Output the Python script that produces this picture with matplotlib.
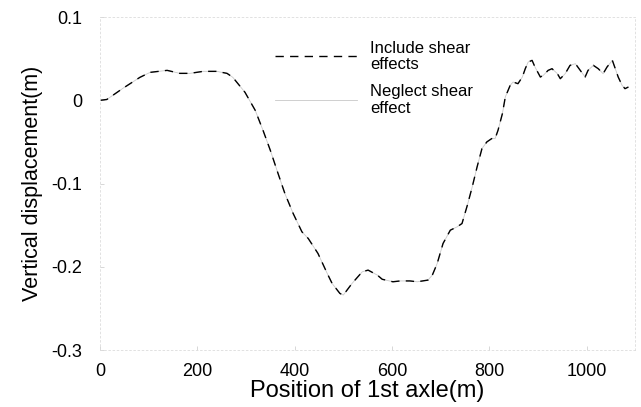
import matplotlib
matplotlib.use("Agg")
import matplotlib.pyplot as plt

plt.rcParams['font.family'] = ['Liberation Sans', 'DejaVu Sans']
plt.rcParams['axes.unicode_minus'] = False

# position of the first axle (m)
position = [0, 14, 47, 82, 103, 138, 164, 185, 212, 240, 261, 273, 298, 319,
            335, 350, 366, 380, 397, 415, 428, 448, 467, 477, 493, 500, 518,
            539, 551, 570, 580, 602, 617, 637, 652, 674, 683, 693, 705, 720,
            734, 744, 755, 765, 775, 785, 795, 805, 812, 818, 827, 833, 843,
            849, 859, 868, 874, 880, 888, 894, 905, 911, 921, 929, 940, 946,
            956, 966, 977, 987, 997, 1003, 1014, 1024, 1034, 1042, 1053, 1059,
            1065, 1073, 1079, 1086]

# vertical displacement with shear deformation included (m)
disp_shear = [0.0, 0.001, 0.0144, 0.0276, 0.0336, 0.036, 0.0324, 0.0324,
              0.0348, 0.0348, 0.0324, 0.0276, 0.0096, -0.012, -0.036, -0.060,
              -0.088, -0.112, -0.136, -0.158, -0.166, -0.184, -0.208, -0.220,
              -0.232, -0.234, -0.220, -0.206, -0.204, -0.210, -0.215, -0.218,
              -0.217, -0.217, -0.218, -0.216, -0.210, -0.196, -0.172, -0.156,
              -0.152, -0.148, -0.126, -0.104, -0.080, -0.058, -0.050, -0.046,
              -0.046, -0.036, -0.016, 0.004, 0.018, 0.022, 0.020, 0.028, 0.038,
              0.046, 0.048, 0.040, 0.028, 0.030, 0.036, 0.038, 0.032, 0.026,
              0.032, 0.042, 0.044, 0.036, 0.028, 0.036, 0.042, 0.038, 0.032,
              0.040, 0.048, 0.038, 0.028, 0.018, 0.014, 0.016]

# vertical displacement without shear deformation (m)
disp_noshear = list(disp_shear)

fig = plt.figure(figsize=(6.41, 4.07), dpi=100)
ax = fig.add_axes([0.156, 0.140, 0.835, 0.818])

ax.plot(position, disp_noshear, color='#c8c8c8', lw=0.6, label='Neglect shear\neffect')
ax.plot(position, disp_shear, color='black', lw=1.0, ls=(0, (6, 4.5)),
        label='Include shear\neffects')

ax.set_xlim(0, 1100)
ax.set_ylim(-0.3, 0.1)
ax.set_xticks([0, 200, 400, 600, 800, 1000])
ax.set_yticks([0.1, 0, -0.1, -0.2, -0.3])
ax.set_yticklabels(['0.1', '0', '-0.1', '-0.2', '-0.3'])

for s in ax.spines.values():
    s.set_color('#dcdcdc')
    s.set_linewidth(0.6)
    s.set_linestyle((0, (2, 3)))
ax.tick_params(direction='in', length=3, width=0.5, color='#c8c8c8',
               labelsize=13, pad=13)
ax.tick_params(axis='x', pad=9)

ax.set_xlabel('Position of 1st axle(m)', fontsize=17, labelpad=0)
ax.set_ylabel('Vertical displacement(m)', fontsize=15.5, labelpad=6)

handles, labels = ax.get_legend_handles_labels()
leg = ax.legend(handles[::-1], labels[::-1], loc='upper left',
                bbox_to_anchor=(0.429, 0.9), bbox_transform=fig.transFigure,
                frameon=False, fontsize=12, handlelength=4.9, handletextpad=0.8,
                labelspacing=0.75, borderpad=0, borderaxespad=0)
for t in leg.get_texts():
    t.set_linespacing(1.1)

fig.savefig('out.png', dpi=100)
